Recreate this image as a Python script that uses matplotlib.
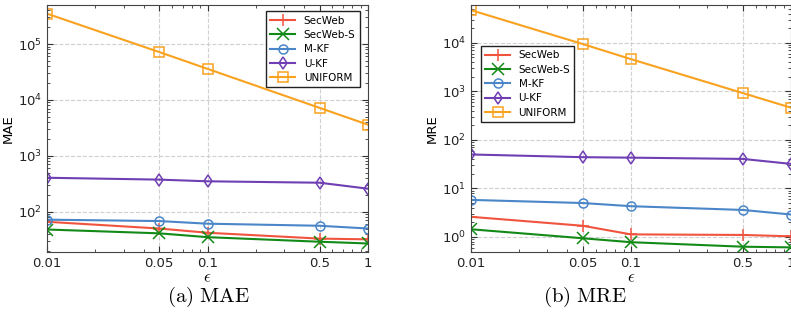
import matplotlib
matplotlib.use('Agg')
import matplotlib.pyplot as plt
import numpy as np

plt.rcParams['mathtext.fontset'] = 'cm'

# epsilon values
eps = [0.01, 0.05, 0.1, 0.5, 1]
eps_labels = ['0.01', '0.05', '0.1', '0.5', '1']

# MAE
mae_secweb = [66, 50, 42, 33, 32]
mae_secweb_s = [48, 41, 35, 29, 27]
mae_mkf = [72, 68, 61, 56, 50]
mae_ukf = [405, 375, 350, 330, 258]
mae_uniform = [3.5e5, 7.2e4, 3.6e4, 7.2e3, 3.6e3]

# MRE
mre_secweb = [2.6, 1.7, 1.13, 1.1, 1.03]
mre_secweb_s = [1.44, 0.94, 0.78, 0.63, 0.61]
mre_mkf = [5.8, 5.0, 4.3, 3.6, 2.9]
mre_ukf = [50, 44, 43, 40.5, 32]
mre_uniform = [4.7e4, 9.4e3, 4.6e3, 920, 460]

names = ['SecWeb', 'SecWeb-S', 'M-KF', 'U-KF', 'UNIFORM']
colors = ['#f0543f', '#138a17', '#4a86c8', '#6f3fb3', '#f9a21f']
markers = ['+', 'x', 'o', 'd', 's']

fig = plt.figure(figsize=(7.91, 3.24), dpi=100)
ax1 = fig.add_axes([47/791, 72/324, 321/791, 247/324])
ax2 = fig.add_axes([471/791, 72/324, 320/791, 247/324])


def draw(ax, series, ylabel, ylim, legend_kw):
    for vals, name, c, m in zip(series, names, colors, markers):
        ms = 8 if m in ['+', 'x'] else 6.5
        ax.plot(eps, vals, color=c, marker=m, markersize=ms, lw=1.5,
                markerfacecolor='none', markeredgewidth=1.1, label=name,
                clip_on=True)
    ax.set_xscale('log')
    ax.set_yscale('log')
    ax.set_xlim(0.01, 1)
    ax.set_ylim(*ylim)
    ax.set_xticks(eps)
    ax.set_xticklabels(eps_labels)
    ax.grid(True, which='major', ls='--', color='#d0d0d0', lw=0.8)
    ax.tick_params(which='both', direction='in', top=True, right=True,
                   labelsize=9.5, colors='#333333', labelcolor='#222222')
    ax.tick_params(which='major', length=4)
    ax.tick_params(which='minor', length=2)
    for s in ax.spines.values():
        s.set_color('#444444')
    ax.set_xlabel(r'$\epsilon$', fontsize=12, labelpad=-1)
    ax.set_ylabel(ylabel, fontsize=9.5, labelpad=2)
    leg = ax.legend(fontsize=7.5, fancybox=False, edgecolor='#222222',
                    framealpha=1, handlelength=2.4, borderpad=0.4,
                    labelspacing=0.42, **legend_kw)
    leg.get_frame().set_linewidth(1.0)


draw(ax1, [mae_secweb, mae_secweb_s, mae_mkf, mae_ukf, mae_uniform], 'MAE',
     (19, 5e5), dict(loc='upper right', bbox_to_anchor=(0.99, 0.995)))
draw(ax2, [mre_secweb, mre_secweb_s, mre_mkf, mre_ukf, mre_uniform], 'MRE',
     (0.49, 6e4), dict(loc='upper left', bbox_to_anchor=(0.015, 0.855)))

fig.text(208/791, 1 - 297/324, r'$(\mathrm{a})\ \mathrm{MAE}$', ha='center', va='center',
         fontsize=15)
fig.text(585/791, 1 - 297/324, r'$(\mathrm{b})\ \mathrm{MRE}$', ha='center', va='center',
         fontsize=15)

fig.savefig('out.png', dpi=100)
